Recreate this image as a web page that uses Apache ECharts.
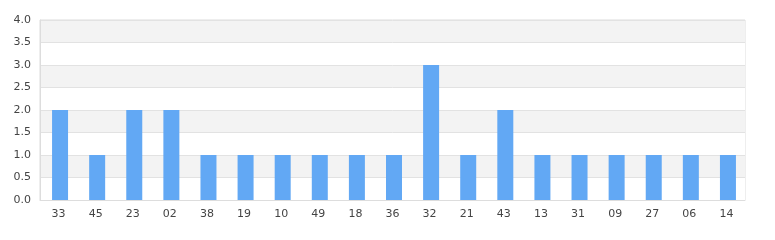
<!DOCTYPE html>
<html><head><meta charset="utf-8">
<script src="https://cdn.jsdelivr.net/npm/echarts@6/dist/echarts.min.js"></script>
<style>html,body{margin:0;padding:0;background:#fff}#c{width:775px;height:240px}</style>
</head><body><div id="c"></div>
<script>
const categories = ['33','45','23','02','38','19','10','49','18','36','32','21','43','13','31','09','27','06','14'];
const values = [2,1,2,2,1,1,1,1,1,1,3,1,2,1,1,1,1,1,1];
const yTicks = {min:0, max:4, interval:0.5};
const chart = echarts.init(document.getElementById('c'), null, {renderer:'canvas'});
chart.setOption({
  animation:false,
  grid:{left:40,right:30,top:20,bottom:40,show:true,borderColor:'#dddddd',borderWidth:1,backgroundColor:'transparent'},
  xAxis:{type:'category',data:categories,
    axisLine:{show:true,lineStyle:{color:'#dddddd'}},axisTick:{show:false},
    axisLabel:{color:'#444',fontSize:11,fontFamily:'DejaVu Sans',margin:9}},
  yAxis:{type:'value',min:yTicks.min,max:yTicks.max,interval:yTicks.interval,
    axisLine:{show:true,lineStyle:{color:'#dddddd'}},axisTick:{show:false},
    axisLabel:{color:'#444',fontSize:11,fontFamily:'DejaVu Sans',margin:9,formatter:v=>v.toFixed(1)},
    splitLine:{show:true,lineStyle:{color:'#e2e2e2'}},
    splitArea:{show:true,areaStyle:{color:['#ffffff','#f3f3f3']}}},
  series:[
    {type:'bar',data:[],barWidth:16,barGap:'-81.25%'},
    {type:'bar',data:values,barWidth:16,barGap:'-81.25%',itemStyle:{color:'#62a8f4'}}
  ]
});
</script></body></html>
